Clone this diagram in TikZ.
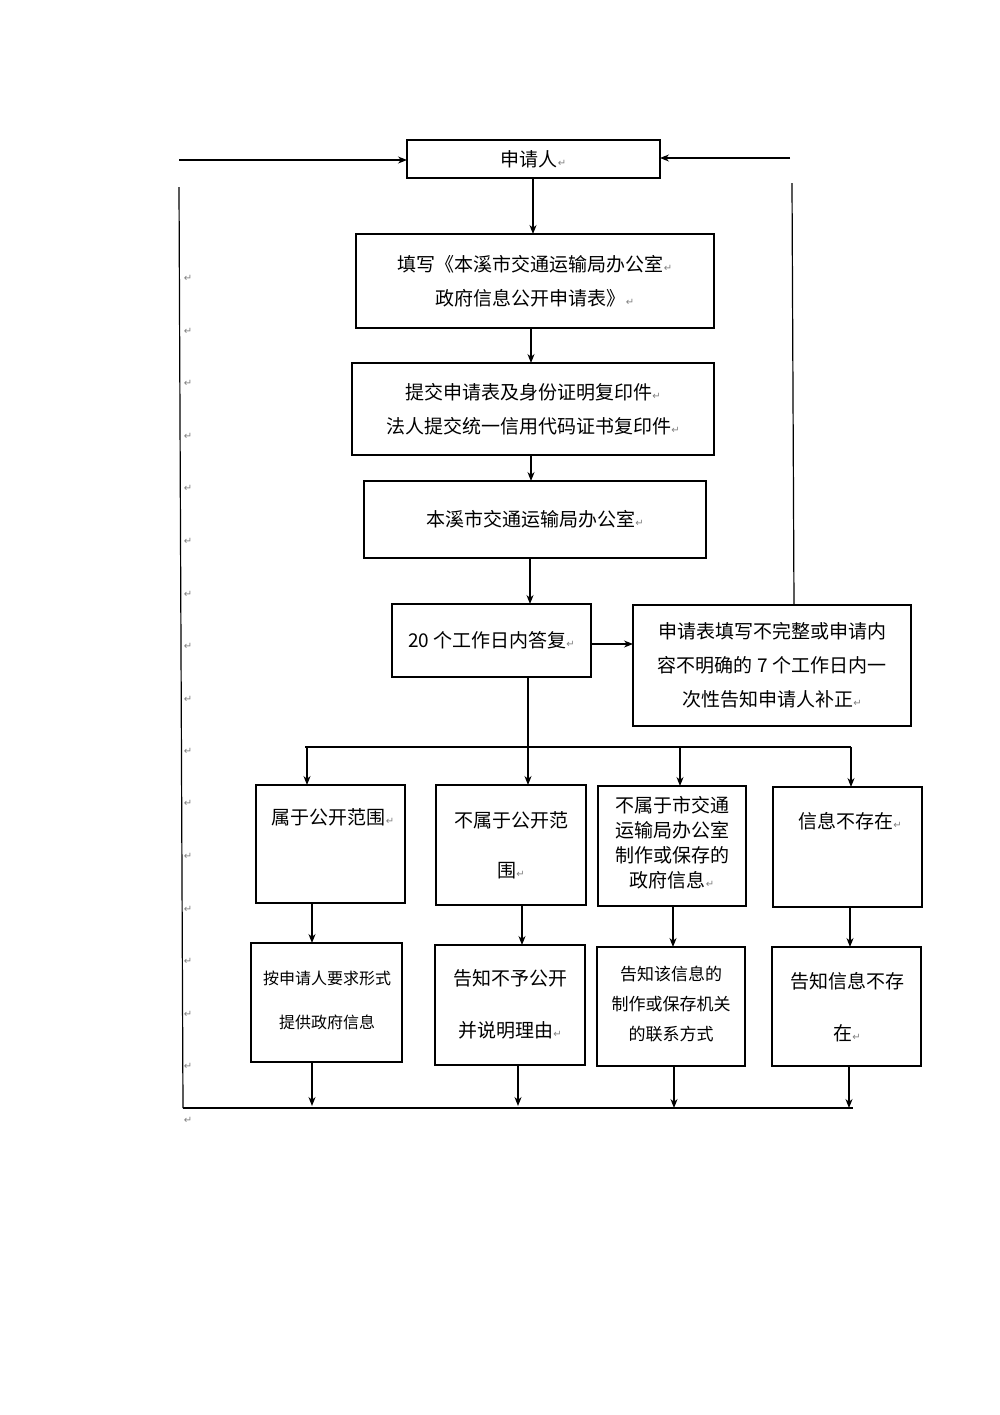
\documentclass[tikz,border=0pt]{standalone}
\usepackage{fontspec}
\setmainfont{Noto Sans CJK SC}
\newfontfamily\dv{DejaVu Sans}
\usetikzlibrary{arrows.meta}
\newcommand{\rt}{{\dv\tiny\textcolor{gray}{↵}}}
\begin{document}
\begin{tikzpicture}[x=0.5pt,y=-0.5pt,
  box/.style={draw,line width=0.6pt,inner sep=0pt,align=center,font=\fontsize{9.5}{17}\selectfont},
  ln/.style={line width=0.6pt},
  ar/.style={ln,-{Stealth[length=4.5pt,width=3.5pt]}}]
\useasboundingbox (0,0) rectangle (1000,1415);
\def\bx#1#2#3#4#5#6{\node[box,minimum width={(#4-#2)*0.5pt},minimum height={(#5-#3)*0.5pt}] (#1) at ({(#2+#4)/2},{(#3+#5)/2}) {#6};}
\bx{a}{407}{140}{660}{178}{申请人\rt}
\bx{b}{356}{234}{714}{328}{填写《本溪市交通运输局办公室\rt\\政府信息公开申请表》\rt}
\bx{c}{352}{363}{714}{455}{提交申请表及身份证明复印件\rt\\法人提交统一信用代码证书复印件\rt}
\bx{d}{364}{481}{706}{558}{本溪市交通运输局办公室\rt}
\bx{e}{392}{604}{591}{677}{20 个工作日内答复\rt}
\bx{f}{633}{605}{911}{726}{申请表填写不完整或申请内\\容不明确的 7 个工作日内一\\次性告知申请人补正\rt}
\draw[ln] (256,785) rectangle (405,903); \node[font=\fontsize{9.5}{17}\selectfont] at (333,817) {属于公开范围\rt};
\draw[ln] (436,785) rectangle (586,905); \node[font=\fontsize{9.5}{25}\selectfont,align=center] at (511,845) {不属于公开范\\围\rt};
\draw[ln] (598,786) rectangle (746,906); \node[font=\fontsize{9.5}{12.5}\selectfont,align=center] at (672,843) {不属于市交通\\运输局办公室\\制作或保存的\\政府信息\rt};
\draw[ln] (773,787) rectangle (922,907); \node[font=\fontsize{9.5}{17}\selectfont] at (850,821) {信息不存在\rt};
\draw[ln] (251,943) rectangle (402,1062); \node[font=\fontsize{8}{22}\selectfont,align=center] at (327,1000) {按申请人要求形式\\提供政府信息};
\draw[ln] (435,945) rectangle (585,1065); \node[font=\fontsize{9.5}{26}\selectfont,align=center] at (510,1004) {告知不予公开\\并说明理由\rt};
\draw[ln] (597,947) rectangle (745,1066); \node[font=\fontsize{8.5}{15}\selectfont,align=center] at (671,1004) {告知该信息的\\制作或保存机关\\的联系方式};
\draw[ln] (772,947) rectangle (921,1066); \node[font=\fontsize{9.5}{26}\selectfont,align=center] at (847,1007) {告知信息不存\\在\rt};
\draw[ar] (533,178) -- (533,234);
\draw[ar] (531,328) -- (531,363);
\draw[ar] (531,455) -- (531,481);
\draw[ar] (530,558) -- (530,604);
\draw[ar] (591,644) -- (633,644);
\draw[ar] (528,677) -- (528,785);
\draw[ln] (305,747) -- (851,747);
\draw[ar] (307,747) -- (307,785);
\draw[ar] (680,747) -- (680,786);
\draw[ar] (851,747) -- (851,787);
\draw[ar] (312,903) -- (312,943);
\draw[ar] (522,905) -- (522,945);
\draw[ar] (673,906) -- (673,947);
\draw[ar] (850,907) -- (850,947);
\draw[ar] (312,1062) -- (312,1106);
\draw[ar] (518,1065) -- (518,1106);
\draw[ar] (674,1066) -- (674,1108);
\draw[ar] (849,1066) -- (849,1108);
\draw[ln] (183,1108) -- (853,1108);
\draw[ln] (179,187) -- (183,1108);
\draw[ar] (179,160) -- (407,160);
\draw[ar] (790,158) -- (660,158);
\draw[ln] (792,183) -- (794,605);
\foreach \y in {278,331,383,436,488,541,594,646,699,751,803,856,909,961,1014,1066,1120}
  \node at (188,\y) {\rt};
\end{tikzpicture}
\end{document}
